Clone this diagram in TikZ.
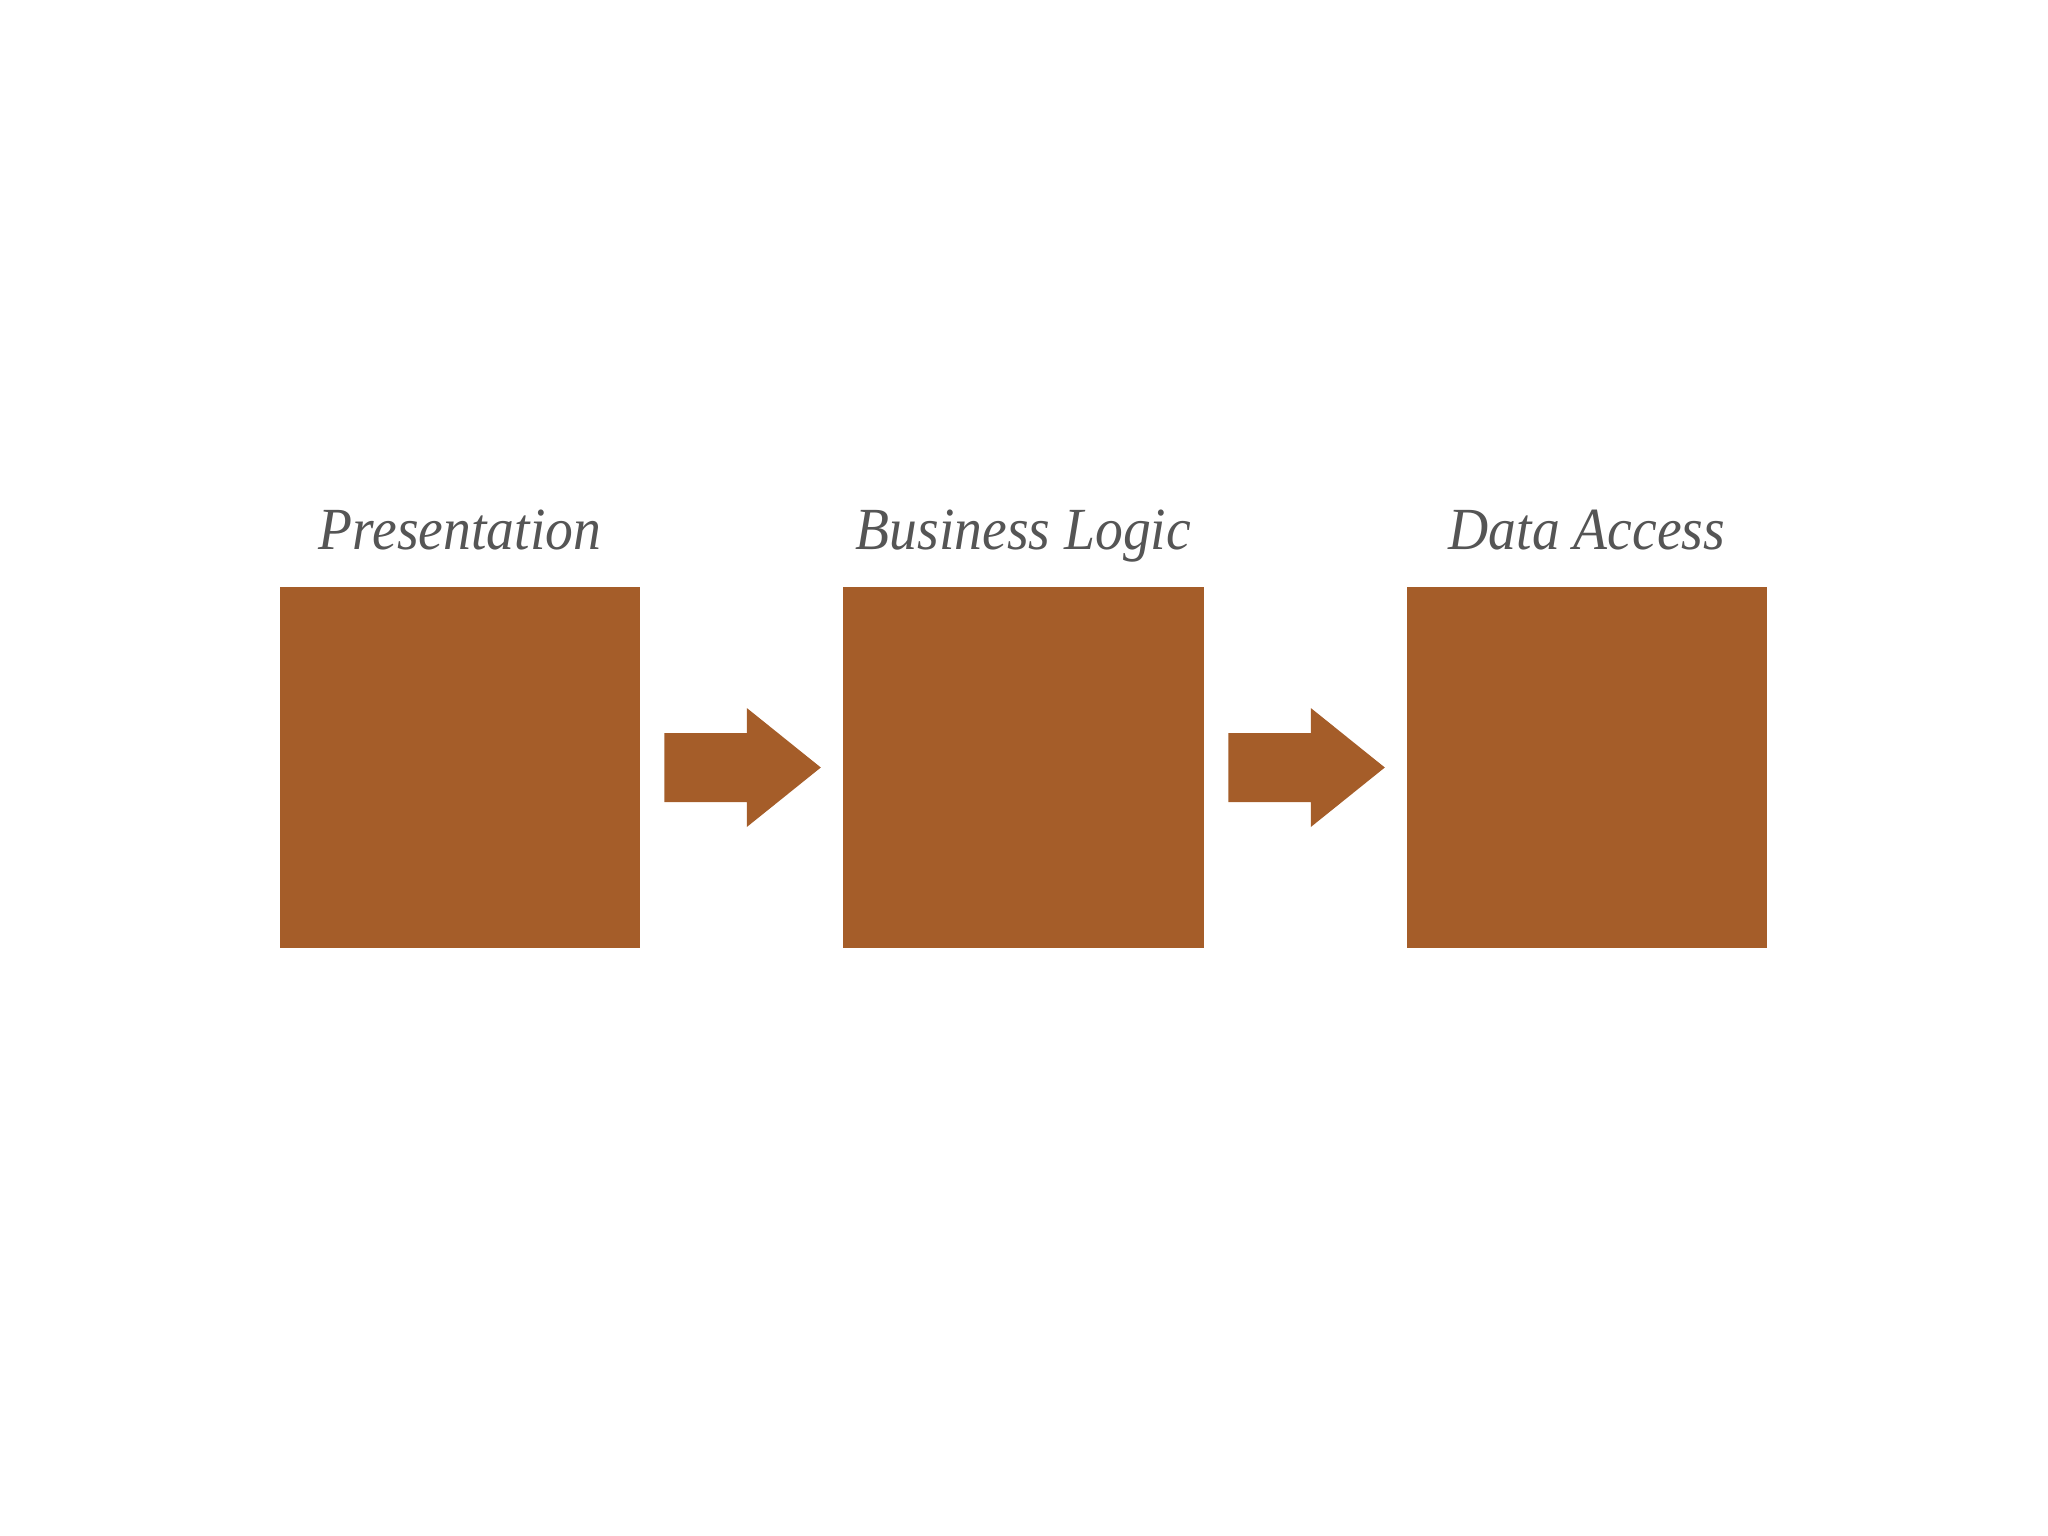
\documentclass[tikz,border=0pt]{standalone}
\usepackage{fontspec}
\setmainfont{Liberation Serif}
\newfontfamily\titlefont[FakeStretch=0.93]{Liberation Serif}
\usetikzlibrary{positioning}
\definecolor{brick}{RGB}{165,93,41}
\definecolor{labelgray}{RGB}{85,85,85}

\begin{document}
\begin{tikzpicture}[x=0.01cm, y=-0.01cm,
  layer/.style={rectangle, fill=brick, minimum size=3.6cm, inner sep=0pt},
  title/.style={anchor=base, text=labelgray, font=\titlefont\fontsize{17}{20}\selectfont\itshape}]
\useasboundingbox (0,0) rectangle (2048,1536);
% The three layers
\node[layer] (pres) at (460,767.5) {};
\node[layer] (logic) at (1023.5,767.5) {};
\node[layer] (data) at (1587,767.5) {};
\node[title] (tpres) at (460,549) {Presentation};
\node[title] (tlogic) at (1023.5,549) {Business Logic};
\node[title] (tdata) at (1587,549) {Data Access};

% Block arrows between layers
\path (pres.east) ++(23.5,0) coordinate (a1);
\path (logic.east) ++(24,0) coordinate (a2);
\fill[brick] (a1) ++(0,-34.5) -- ++(82.5,0) -- ++(0,-25) -- ++(74,59.5)
  -- ++(-74,59.5) -- ++(0,-25) -- ++(-82.5,0) -- cycle;
\fill[brick] (a2) ++(0,-34.5) -- ++(82.5,0) -- ++(0,-25) -- ++(74,59.5)
  -- ++(-74,59.5) -- ++(0,-25) -- ++(-82.5,0) -- cycle;
\end{tikzpicture}
\end{document}
